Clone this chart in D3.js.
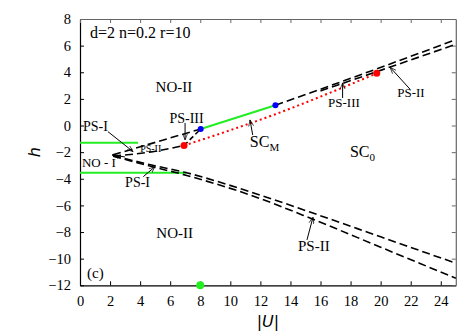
<!DOCTYPE html>
<html><head><meta charset="utf-8">
<script src="https://cdn.jsdelivr.net/npm/d3@7"></script>
<style>body{margin:0;background:#fff}svg{display:block}</style>
</head><body>
<svg id="c" width="473" height="331"></svg>
<script>
// ---- data (u = |U|, h) ----
const xTicks = [0,2,4,6,8,10,12,14,16,18,20,22,24];
const yTicks = [8,6,4,2,0,-2,-4,-6,-8,-10,-12];
const greenUpper = [[0,-1.29],[3.86,-1.29]];
const greenLower = [[0,-3.55],[7.1,-3.55]];
const greenMid = [[8.03,-0.26],[13.0,1.52]];
const fanUpA = [[2.2,-2.2],[8.03,-0.26]];
const fanUpB = [[2.2,-2.3],[4.6,-2.0],[6.92,-1.5]];
const wedgeIII = [[6.92,-1.5],[8.03,-0.26]];
const rightA = [[13.0,1.52],[19,3.95],[25,6.45]];
const rightB = [[16,2.6],[20.5,4.34],[25,6.1]];
const redDotted = [[6.92,-1.5],[10,-0.35],[13,0.85],[16.5,2.4],[19.74,3.92]];
const lowA = [[2.2,-2.25],[4.5,-2.9],[7.1,-3.55],[11.3,-4.97],[15.3,-6.5],[20,-8.36],[25,-10.34]];
const lowB = [[2.2,-2.3],[4.5,-3.0],[7.1,-3.75],[11.3,-5.21],[15.5,-7.04],[20,-9.14],[25,-11.47]];
const blueDots = [[8.03,-0.26],[13.0,1.52]];
const redDots = [[6.92,-1.5],[19.74,3.92]];
const greenDots = [[8,-12]];
const labels = [
  {t:"NO-II", u:6.25, h:2.5, a:"middle", s:15},
  {t:"NO-II", u:6.3, h:-8.44, a:"middle", s:15},
  {t:"PS-III", u:7.09, h:0.19, a:"middle", s:14},
  {t:"PS-I", u:0.2, h:-0.41, a:"start", s:14},
  {t:"PS-II", u:4.0, h:-1.98, a:"start", s:10},
  {t:"NO - I", u:0.13, h:-3.11, a:"start", s:13},
  {t:"PS-I", u:3.0, h:-4.6, a:"start", s:14},
  {t:"PS-II", u:14.5, h:-9.42, a:"start", s:15},
  {t:"PS-III", u:16.5, h:1.39, a:"start", s:13},
  {t:"PS-II", u:21.1, h:2.14, a:"start", s:13},
  {t:"d=2 n=0.2 r=10", u:0.67, h:6.57, a:"start", s:16},
  {t:"(c)", u:0.47, h:-11.45, a:"start", s:15}
];
const subLabels = [
  {t:"SC", sub:"M", u:11.3, h:-1.6},
  {t:"SC", sub:"0", u:17.96, h:-2.36}
];
const arrows = [
  [[1.86,-0.46],[3.53,-1.96]],
  [[6.99,0.19],[6.99,-1.08]],
  [[11.49,-0.71],[11.31,0.42]],
  [[2.99,-2.36],[2.13,-2.21]],
  [[4.21,-3.84],[4.99,-3.09]],
  [[15.1,-8.59],[15.5,-6.89]],
  [[17.47,2.07],[17.47,3.2]],
  [[21.96,2.72],[20.63,4.37]]
];

// ---- drawing ----
const svg = d3.select("#c");
const L=80, R=455.8, T=19, B=285.3;
const x = d3.scaleLinear().domain([0,25]).range([L,R]);
const y = d3.scaleLinear().domain([-12,8]).range([B,T]);
const serif = "'Liberation Serif','Times New Roman',serif";

const defs = svg.append("defs");
defs.append("marker").attr("id","ah").attr("viewBox","0 -4 10 8")
  .attr("refX",9).attr("refY",0).attr("markerWidth",7).attr("markerHeight",6)
  .attr("markerUnits","userSpaceOnUse").attr("orient","auto")
  .append("path").attr("d","M0,-3.5L9,0L0,3.5").attr("fill","none").attr("stroke","#000").attr("stroke-width",1);

// axes
function styleAxis(g, col){
  g.select(".domain").attr("stroke",col).attr("stroke-width",1.2);
  g.selectAll(".tick line").attr("stroke",col);
  g.selectAll("text").attr("font-family",serif).attr("font-size",14.5).attr("fill","#000");
}
svg.append("g").attr("transform",`translate(0,${B})`)
  .call(d3.axisBottom(x).tickValues(xTicks).tickSize(-4).tickSizeOuter(0).tickPadding(10))
  .call(g=>styleAxis(g,"#000"));
svg.append("g").attr("transform",`translate(${L},0)`)
  .call(d3.axisLeft(y).tickValues(yTicks).tickSize(-4).tickSizeOuter(0).tickPadding(9))
  .call(g=>styleAxis(g,"#000"));
svg.append("g").attr("transform",`translate(0,${T})`)
  .call(d3.axisTop(x).tickValues(xTicks).tickSize(-4).tickSizeOuter(0).tickFormat(""))
  .call(g=>styleAxis(g,"#666"));
svg.append("g").attr("transform",`translate(${R},0)`)
  .call(d3.axisRight(y).tickValues(yTicks).tickSize(-4).tickSizeOuter(0).tickFormat(""))
  .call(g=>styleAxis(g,"#666"));

const line = d3.line().x(d=>x(d[0])).y(d=>y(d[1]));
const lineC = d3.line().x(d=>x(d[0])).y(d=>y(d[1])).curve(d3.curveMonotoneX);

function draw(data, stroke, w, dash, curved){
  svg.append("path").datum(data).attr("d", curved?lineC:line)
    .attr("fill","none").attr("stroke",stroke).attr("stroke-width",w)
    .attr("stroke-dasharray",dash||null);
}
draw(greenUpper,"#22ee22",2);
draw(greenLower,"#22ee22",2);
draw(greenMid,"#22ee22",2);
const dash="8,4";
draw(fanUpA,"#000",1.6,dash);
draw(fanUpB,"#000",1.6,dash,true);
draw(wedgeIII,"#000",1.6,"5,3");
draw(rightA,"#000",1.6,dash,true);
draw(rightB,"#000",1.6,dash,true);
draw(lowA,"#000",1.6,dash,true);
draw(lowB,"#000",1.6,dash,true);
draw(redDotted,"#ff0000",2,"2,3",true);

svg.append("g").selectAll("circle").data(blueDots).join("circle")
  .attr("cx",d=>x(d[0])).attr("cy",d=>y(d[1])).attr("r",3).attr("fill","#0000ff");
svg.append("g").selectAll("circle").data(redDots).join("circle")
  .attr("cx",d=>x(d[0])).attr("cy",d=>y(d[1])).attr("r",3.5).attr("fill","#ff0000");
svg.append("g").selectAll("circle").data(greenDots).join("circle")
  .attr("cx",d=>x(d[0])).attr("cy",d=>y(d[1])).attr("r",4).attr("fill","#22ee22");

svg.append("g").selectAll("line").data(arrows).join("line")
  .attr("x1",d=>x(d[0][0])).attr("y1",d=>y(d[0][1]))
  .attr("x2",d=>x(d[1][0])).attr("y2",d=>y(d[1][1]))
  .attr("stroke","#000").attr("stroke-width",1).attr("marker-end","url(#ah)");

svg.append("g").selectAll("text").data(labels).join("text")
  .attr("x",d=>x(d.u)).attr("y",d=>y(d.h)).attr("text-anchor",d=>d.a)
  .attr("font-family",serif).attr("font-size",d=>d.s).attr("fill","#000").text(d=>d.t);

const sl = svg.append("g").selectAll("text").data(subLabels).join("text")
  .attr("x",d=>x(d.u)).attr("y",d=>y(d.h))
  .attr("font-family",serif).attr("font-size",16).attr("fill","#000");
sl.append("tspan").text(d=>d.t);
sl.append("tspan").attr("font-size",11).attr("dy",4).text(d=>d.sub);

// axis titles
svg.append("text").attr("x",(L+R)/2).attr("y",327).attr("text-anchor","middle")
  .attr("font-family","'DejaVu Sans',sans-serif").attr("font-style","italic").attr("font-size",16).text("|U|");
svg.append("text").attr("transform",`translate(40,${(T+B)/2}) rotate(-90)`).attr("text-anchor","middle")
  .attr("font-family","'DejaVu Sans',sans-serif").attr("font-style","italic").attr("font-size",16).text("h");
</script>
</body></html>
